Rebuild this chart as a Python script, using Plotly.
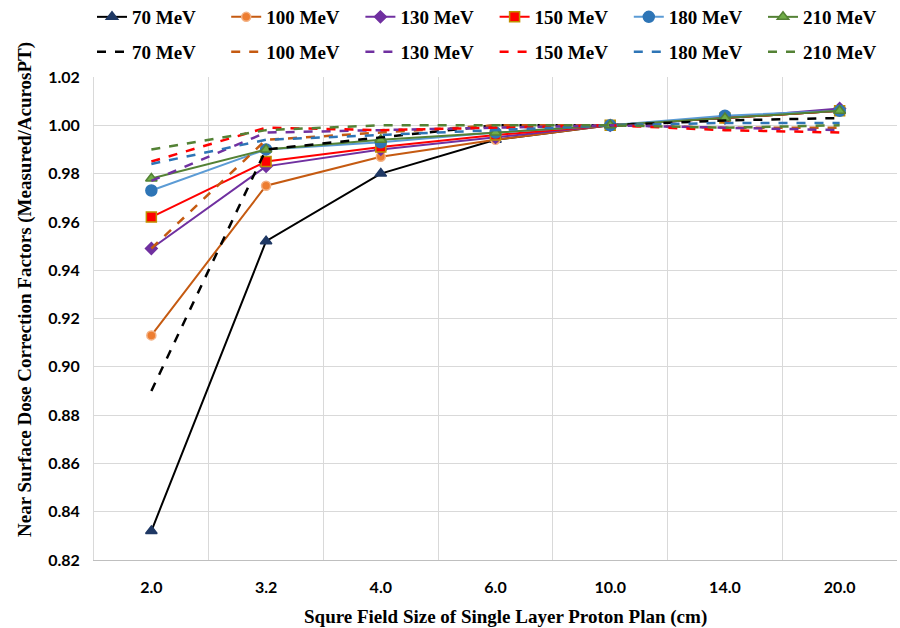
import plotly.graph_objects as go

sizes = ["2.0", "3.2", "4.0", "6.0", "10.0", "14.0", "20.0"]
energies = ["70 MeV", "100 MeV", "130 MeV", "150 MeV", "180 MeV", "210 MeV"]

# Solid series (with markers)
s70 = [0.832, 0.952, 0.980, 0.994, 1.000, 1.003, 1.006]
s100 = [0.913, 0.975, 0.987, 0.994, 1.000, 1.003, 1.006]
s130 = [0.949, 0.983, 0.990, 0.995, 1.000, 1.003, 1.007]
s150 = [0.962, 0.985, 0.991, 0.996, 1.000, 1.003, 1.006]
s180 = [0.973, 0.990, 0.993, 0.997, 1.000, 1.004, 1.006]
s210 = [0.978, 0.990, 0.994, 0.997, 1.000, 1.003, 1.006]

# Dashed series
d70 = [0.890, 0.990, 0.995, 1.000, 1.000, 1.002, 1.003]
d100 = [0.949, 0.994, 0.997, 1.000, 1.000, 0.999, 0.999]
d130 = [0.977, 0.997, 0.998, 0.999, 1.000, 0.999, 0.998]
d150 = [0.985, 0.999, 0.998, 0.999, 1.000, 0.998, 0.997]
d180 = [0.984, 0.994, 0.996, 0.998, 1.000, 1.001, 1.001]
d210 = [0.990, 0.998, 1.000, 1.000, 1.000, 0.999, 1.000]

solid = [s70, s100, s130, s150, s180, s210]
dashed = [d70, d100, d130, d150, d180, d210]

line_colors = ["#000000", "#C55A11", "#7030A0", "#FF0000", "#5B9BD5", "#548235"]
mk_symbols = ["triangle-up", "circle", "diamond", "square", "circle", "triangle-up"]
mk_fill = ["#1F3864", "#ED7D31", "#7030A0", "#FF0000", "#2E75B6", "#70AD47"]
mk_edge = ["#1F3864", "#F4B183", "#7030A0", "#BF9000", "#2E75B6", "#548235"]
mk_size = [10, 9, 9, 10, 11, 10]
dash_colors = ["#000000", "#C55A11", "#7030A0", "#FF0000", "#2E75B6", "#548235"]

W, H = 900, 628
ML, MR, MT, MB = 94, 3, 77, 68
PW, PH = W - ML - MR, H - MT - MB

fig = go.Figure()
for i, name in enumerate(energies):
    fig.add_trace(go.Scatter(
        x=sizes, y=solid[i], name=name, mode="lines+markers",
        line=dict(color=line_colors[i], width=2),
        marker=dict(symbol=mk_symbols[i], color=mk_fill[i], size=mk_size[i],
                    line=dict(color=mk_edge[i], width=1.5)),
        legend="legend" if i == 0 else f"legend{i + 1}",
    ))
for i, name in enumerate(energies):
    fig.add_trace(go.Scatter(
        x=sizes, y=dashed[i], name=name, mode="lines",
        line=dict(color=dash_colors[i], width=2.5, dash="dash"),
        legend=f"legend{i + 7}",
    ))

leg_font = dict(family="Liberation Serif", size=19, color="#000000", weight="bold")
legends = {}
for j in range(6):
    for r, ypx in enumerate([17, 52]):
        k = r * 6 + j + 1
        key = "legend" if k == 1 else f"legend{k}"
        legends[key] = dict(
            orientation="h", xref="container", yref="container",
            xanchor="left", yanchor="middle",
            x=(92 + j * 134.2) / W, y=1 - ypx / H,
            font=leg_font, bgcolor="rgba(0,0,0,0)", itemclick=False,
        )

title_font = dict(family="Liberation Serif", size=19, color="#000000", weight="bold")

fig.update_layout(
    width=W, height=H,
    margin=dict(l=ML, r=MR, t=MT, b=MB, autoexpand=False),
    plot_bgcolor="white", paper_bgcolor="white",
    showlegend=True,
    xaxis=dict(
        type="category", tickson="boundaries", showgrid=True,
        gridcolor="#D9D9D9", gridwidth=1,
        showline=True, linecolor="#BFBFBF", linewidth=1, mirror=False,
        ticks="", ticklabelstandoff=13,
        tickfont=dict(family="Lato", size=16, color="#000000", weight="bold"),
        range=[-0.5, 6.5],
    ),
    yaxis=dict(
        range=[0.82, 1.02], dtick=0.02, tick0=0.82, tickformat=".2f",
        showgrid=True, gridcolor="#D9D9D9", gridwidth=1,
        showline=True, linecolor="#D9D9D9", linewidth=1,
        zeroline=False, ticks="", ticklabelstandoff=10,
        tickfont=dict(family="Lato", size=16, color="#000000", weight="bold"),
    ),
    annotations=[
        dict(text="Squre Field Size of Single Layer Proton Plan (cm)",
             xref="paper", yref="paper",
             x=(505 - ML) / PW, y=(H - MB - 617) / PH,
             xanchor="center", yanchor="middle", showarrow=False, font=title_font),
        dict(text="Near Surface Dose Correction Factors (Measured/AcurosPT)",
             xref="paper", yref="paper", textangle=-90,
             x=(25 - ML) / PW, y=(H - MB - 290) / PH,
             xanchor="center", yanchor="middle", showarrow=False, font=title_font),
    ],
    **legends,
)

fig.write_html("out.html")
